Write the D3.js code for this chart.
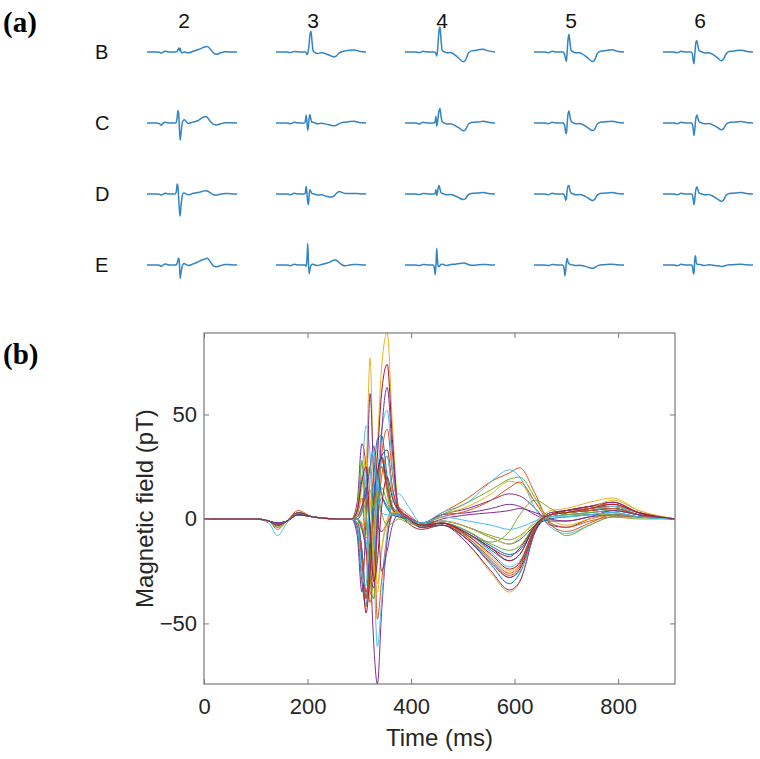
<!DOCTYPE html>
<html><head><meta charset="utf-8">
<script src="https://cdn.jsdelivr.net/npm/d3@7"></script>
<style>body{margin:0;background:#fff}</style>
</head><body>
<svg id="c" width="760" height="759"></svg>
<script>
// sample times (ms)
const times = [0,100,125,142,160,182,210,260,285,296,305,313,321,328,335,343,354,364,376,395,420,460,510,555,590,610,640,670,700,745,790,840,910];

// channel values (pT)
const chX1 = [0,0,-1,-3,-1,3,1,0,0, 4,20,5,-30,-20,0,10,6,2,2, -1,-4,-2,-6,-13,-17,-15,-3,1,2,3,4,2,0];
const chE2 = [0,0,-1,-5,-1,4,1,0,0, 1,6,18,25,5,-48,-30,-8,2,5, 2,-2,3,10,18,22,24.5,12,-3,-6,-2,2,1,0];
const chB4 = [0,0,-1,-2,-1,3,1,0,0, 0,-2,-6,-14,2,35,72,89,45,6, 1,-3,-2,-12,-26,-35,-30,-5,4,5,8,10,4,0];
const chD2 = [0,0,-1,-4,-1,3,1,0,0, 8,36,25,-20,-60,-79,-45,-10,3,4, 0,-3,2,5,9,12,11,5,-3,-4,0,2,1,0];
const chC3 = [0,0,-1,-3,-1,3,1,0,0, 5,28,5,-26,-10,15,30,12,2,3, 0,-3,-1,-4,-8,-10,-8,-2,2,3,5,6,2,0];
const chC2 = [0,0,-2,-8,-2,3,1,0,0, 3,20,44.6,30,-20,-61,-40,-5,8,12, 6,-2,3,8,18,23.5,20,5,-4,-7,-3,1,1,0];
const chB3 = [0,0,-1,-2,-1,2,1,0,0, 0,-3,-9,-5,8,30,60,74,38,4, -2,-5,-3,-7,-14,-18,-14,-3,2,4,6,7,3,0];
const chB6 = [0,0,-1,-3,-1,3,1,0,0, -5,-30,-42,-10,20,38,40,20,6,3, 0,-4,-3,-10,-22,-31,-26,-6,2,3,5,6,3,0];
const chC5 = [0,0,-1,-3,-1,3,1,0,0, 0,-4,-15,-35,-38,-5,30,43,22,6, 1,-3,-2,-9,-20,-27,-23,-4,3,4,5,6,3,0];
const chE3 = [0,0,-1,-3,-1,3,1,0,0, 0,-5,20,77,10,-31,-15,-2,3,2, 0,-2,2,6,12,18,17,8,0,-3,0,2,1,0];
const chE4 = [0,0,-1,-2,-1,2,1,0,0, -8,-35,0,60,20,-3,-6,-2,2,3, 1,-2,2,3,5,7,6,2,-1,-1,1,2,1,0];
const chD3 = [0,0,-1,-3,-1,3,1,0,0, 3,27,5,-30,-38,-5,15,8,2,1, -1,-4,-3,-8,-11,-6,2,9,5,2,2,2,1,0];
const chC4 = [0,0,-1,-4,-1,3,1,0,0, 0,5,24,-12,0,20,42,52,25,5, 0,-4,-3,-10,-20,-28,-25,-5,2,3,4,6,3,0];
const chX2 = [0,0,-1,-3,-1,3,1,0,0, -2,-15,-35,-20,5,20,30,33,15,4, 0,-4,-3,-10,-21,-28,-24,-5,2,4,6,8,3,0];
const chD4 = [0,0,-1,-2,-1,2,1,0,0, 0,3,15,-5,5,20,30,18,5,2, 0,-3,-2,-7,-15,-20,-17,-3,2,3,4,5,2,0];
const chX3 = [0,0,-1,-3,-1,3,1,0,0, 2,10,-15,-40,-25,0,20,30,15,5, 1,-2,1,4,9,15,17.7,8,-2,-4,-1,1,1,0];
const chX4 = [0,0,-1,-3,-1,3,1,0,0, -3,-20,-42,-30,-5,15,28,30,12,3, 0,-3,-2,-8,-18,-25,-21,-4,2,3,5,7,3,0];
const chB5 = [0,0,-1,-3,-1,3,1,0,0, 0,-5,-14,-28,-33,0,40,63,32,5, 1,-3,-3,-12,-25,-34,-30,-6,3,4,6,8,3,0];
const chX5 = [0,0,-1,-2,-1,2,1,0,0, 0,-15,-38,-30,-8,12,25,18,6,3, 0,-3,-2,-6,-12,-15,-13,-3,1,2,3,4,2,0];
const chD5 = [0,0,-1,-3,-1,3,1,0,0, 0,-3,-10,-23,-15,10,28,30,12,3, 0,-3,-2,-7,-16,-23,-20,-4,2,3,4,5,2,0];
const chC6 = [0,0,-1,-3,-1,3,1,0,0, -3,-20,-45,-25,5,22,29,15,5,2, 0,-3,-2,-8,-17,-24,-21,-4,2,3,4,5,2,0];
const chE5 = [0,0,-1,-2,-1,2,1,0,0, -2,-15,-38,-15,10,23,12,5,2,1, 0,-2,-1,-4,-9,-12,-10,-3,0,1,2,3,1,0];
const chD6 = [0,0,-1,-3,-1,3,1,0,0, -2,-18,-38,-20,5,20,25,14,4,2, 0,-3,-2,-9,-19,-26,-22,-4,2,3,4,5,2,0];
const chX6 = [0,0,-1,-4,-1,3,1,0,0, 3,15,30,10,-20,-35,-15,0,3,3, 0,-3,-1,-4,-9,-12,-9,-1,2,3,5,9,4,0];
const chX7 = [0,0,-1,-2,-1,2,1,0,0, 1,6,12,25,35,10,-25,-15,-3,2, 0,-3,0,2,3,4,5,3,0,-1,1,4,2,0];
const chB2 = [0,0,-1,-4,-1,3,1,0,0, 1,3,8,14,5,13,3,-3,-2,0, -2,-3,2,8,14,19,20,10,-2,-8,-3,1,0,0];
const chE6 = [0,0,-1,-3,-1,3,1,0,0, -2,-25,-32,20,33,12,3,2,2,2, 0,-2,1,-1,-3,-5,-4,-1,1,1,2,3,1,0];
const chX8 = [0,0,-1,-3,-1,3,1,0,0, 4,18,25,-5,-30,-20,5,20,10,4, 0,-3,-2,-7,-14,-20,-17,-3,2,3,5,7,3,0];

const rowLabels = ["B","C","D","E"];
const colLabels = ["2","3","4","5","6"];
const gridChannels = [
  [chB2, chB3, chB4, chB5, chB6],
  [chC2, chC3, chC4, chC5, chC6],
  [chD2, chD3, chD4, chD5, chD6],
  [chE2, chE3, chE4, chE5, chE6]
];
const butterfly = [chX1, chE2, chB4, chD2, chC3, chC2, chB3, chB6, chC5, chE3, chE4, chD3, chC4, chX2,
  chD4, chX3, chX4, chB5, chX5, chD5, chC6, chE5, chD6, chX6, chX7, chB2, chE6, chX8];
const xTicks = [0,200,400,600,800];
const yTicks = [-50,0,50];
const colors = ["#0072BD","#D95319","#EDB120","#7E2F8E","#77AC30","#4DBEEE","#A2142F"];

const svg = d3.select("#c");
const sans = "'Liberation Sans', Arial, Helvetica, sans-serif";
const serif = "'Liberation Serif', 'Times New Roman', serif";

// panel letters
svg.append("text").attr("x",3).attr("y",32).text("(a)")
  .attr("font-family",serif).attr("font-weight","bold").attr("font-size",29);
svg.append("text").attr("x",3).attr("y",364).text("(b)")
  .attr("font-family",serif).attr("font-weight","bold").attr("font-size",29);

// ---- panel (a)
const colX = d3.scalePoint().domain(colLabels).range([147, 663]);
const rowY = d3.scalePoint().domain(rowLabels).range([52, 265]);
const mx = d3.scaleLinear().domain([0, 910]).range([0, 90]);
const my = d3.scaleLinear().domain([-100, 100]).range([28, -28]);
const miniLine = d3.line().x((d,i)=>mx(times[i])).y(d=>my(d)).curve(d3.curveMonotoneX);

const ga = svg.append("g");
ga.selectAll("text.col").data(colLabels).join("text").attr("class","col")
  .attr("x", d => colX(d) + 37).attr("y", 28).attr("text-anchor","middle")
  .attr("font-family", sans).attr("font-size", 21).attr("fill","#111").text(d=>d);
ga.selectAll("text.row").data(rowLabels).join("text").attr("class","row")
  .attr("x", 95).attr("y", d => rowY(d) + 7)
  .attr("font-family", sans).attr("font-size", 20).attr("fill","#111").text(d=>d);
rowLabels.forEach((r, ri) => {
  colLabels.forEach((c, ci) => {
    ga.append("path")
      .attr("transform", `translate(${colX(c)},${rowY(r)})`)
      .attr("d", miniLine(gridChannels[ri][ci]))
      .attr("fill","none").attr("stroke","#3384c2").attr("stroke-width",1.5);
  });
});

// ---- panel (b)
const L = 204, R = 675, T = 333, B = 684;
const x = d3.scaleLinear().domain([0, 910]).range([L, R]);
const y = d3.scaleLinear().domain([-79, 89]).range([B, T]);
const gb = svg.append("g");
gb.append("clipPath").attr("id","clip").append("rect")
  .attr("x",L).attr("y",T).attr("width",R-L).attr("height",B-T);
const line = d3.line().x((d,i)=>x(times[i])).y(d=>y(d)).curve(d3.curveMonotoneX);
gb.append("g").attr("clip-path","url(#clip)")
  .selectAll("path").data(butterfly).join("path")
  .attr("d", d => line(d)).attr("fill","none")
  .attr("stroke", (d,i) => colors[i % 7]).attr("stroke-width", 1);

const axisColor = "#7a7a7a";
function styleAxis(g, showText) {
  g.select(".domain").remove();
  g.selectAll("line").attr("stroke", axisColor);
  g.selectAll("text").attr("font-family", sans).attr("font-size", 22).attr("fill","#262626");
  if (!showText) g.selectAll("text").remove();
}
gb.append("g").attr("transform",`translate(0,${B})`)
  .call(d3.axisBottom(x).tickValues(xTicks).tickSizeInner(-5).tickSizeOuter(0).tickPadding(14))
  .call(g => styleAxis(g, true));
gb.append("g").attr("transform",`translate(0,${T})`)
  .call(d3.axisTop(x).tickValues(xTicks).tickSizeInner(-5).tickSizeOuter(0))
  .call(g => styleAxis(g, false));
gb.append("g").attr("transform",`translate(${L},0)`)
  .call(d3.axisLeft(y).tickValues(yTicks).tickSizeInner(-5).tickSizeOuter(0).tickPadding(7))
  .call(g => styleAxis(g, true));
gb.append("g").attr("transform",`translate(${R},0)`)
  .call(d3.axisRight(y).tickValues(yTicks).tickSizeInner(-5).tickSizeOuter(0))
  .call(g => styleAxis(g, false));
gb.append("rect").attr("x",L).attr("y",T).attr("width",R-L).attr("height",B-T)
  .attr("fill","none").attr("stroke",axisColor).attr("stroke-width",1.2);

gb.append("text").attr("x", (L+R)/2).attr("y", 746).attr("text-anchor","middle")
  .attr("font-family", sans).attr("font-size", 24).attr("fill","#262626").text("Time (ms)");
gb.append("text").attr("transform", `translate(153,${(T+B)/2}) rotate(-90)`)
  .attr("text-anchor","middle")
  .attr("font-family", sans).attr("font-size", 24).attr("fill","#262626").text("Magnetic field (pT)");
</script>
</body></html>
